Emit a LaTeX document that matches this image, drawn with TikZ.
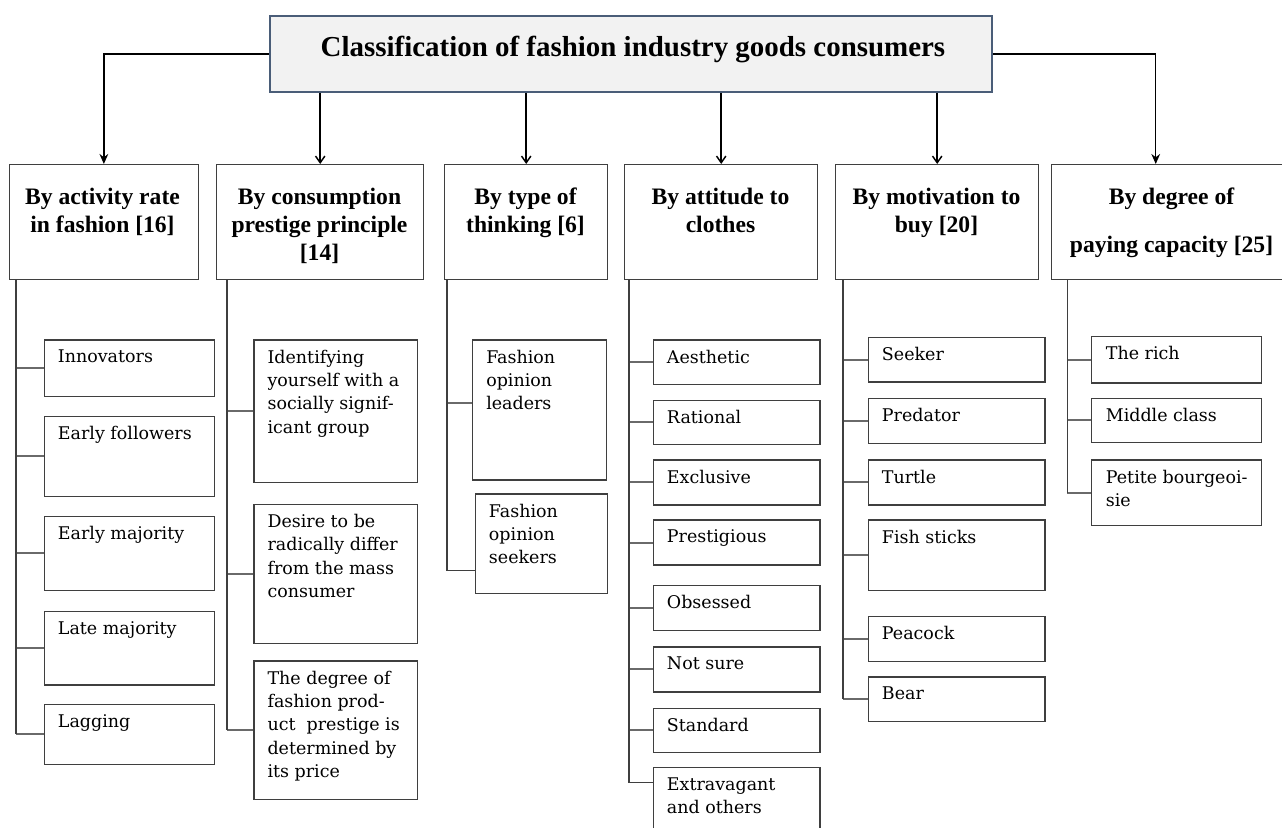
\documentclass[tikz,border=0pt]{standalone}
\usepackage{fontspec}
\setmainfont{Liberation Serif}
\newfontfamily\leaffont{DejaVu Serif}
\usepackage{tikz}
\usetikzlibrary{arrows.meta, calc}
\definecolor{boxline}{HTML}{3F3F3F}
\definecolor{branchline}{HTML}{6A6A6A}
\definecolor{titleline}{HTML}{4A5D78}
\definecolor{titlefill}{HTML}{F2F2F2}

\begin{document}
\begin{tikzpicture}[x=0.75pt, y=-0.75pt,
    box/.style={draw=boxline, line width=1pt, inner sep=0pt, anchor=north west},
    titlebox/.style={draw=titleline, fill=titlefill, line width=1.6pt, inner sep=0pt, anchor=north west},
    titletext/.style={font=\fontsize{21.7pt}{26pt}\selectfont\bfseries, inner sep=0pt, anchor=base},
    headtext/.style={font=\fontsize{17.7pt}{21pt}\selectfont\bfseries, align=center, inner sep=0pt, anchor=north},
    leaftext/.style={font=\leaffont\fontsize{13.1pt}{17.5pt}\selectfont, align=left, inner sep=0pt, anchor=north west},
    trunk/.style={draw=boxline, line width=1.2pt},
    branch/.style={draw=branchline, line width=1.5pt},
    bigarrow/.style={draw=black, line width=1.1pt, -{Stealth[length=7.5pt, width=6.5pt]}},
    smallarrow/.style={draw=black, line width=1.1pt, -{Straight Barb[length=5pt, width=7pt]}}]

    \useasboundingbox (0,0) rectangle (1282,828);
    \clip (0,0) rectangle (1282,828);

    % title
    \node[titlebox, minimum width=541.8pt, minimum height=57pt] (title) at (268.6,14.7) {};
    \node[titletext] (title-t) at (633,56.7) {Classification of fashion industry goods consumers};

    % criteria
    \node[box, minimum width=141.9pt, minimum height=86.3pt] (h1) at (8.6,164) {};
    \node[box, minimum width=155.3pt, minimum height=86.3pt] (h2) at (216,164) {};
    \node[box, minimum width=122.3pt, minimum height=86.3pt] (h3) at (444,164) {};
    \node[box, minimum width=144.8pt, minimum height=86.3pt] (h4) at (624,164) {};
    \node[box, minimum width=152.3pt, minimum height=86.3pt] (h5) at (835,164) {};
    \node[box, minimum width=179.3pt, minimum height=86.3pt] (h6) at (1051,164) {};

    \node[headtext] (h1-t) at (102.5,187.5) {By activity rate\\in fashion [16]};
    \node[headtext] (h2-t) at (319.5,187.5) {By consumption\\prestige principle\\{[14]}};
    \node[headtext] (h3-t) at (525.5,187.5) {By type of\\thinking [6]};
    \node[headtext] (h4-t) at (720.5,187.5) {By attitude to\\clothes};
    \node[headtext] (h5-t) at (936.5,187.5) {By motivation to\\buy [20]};
    \node[headtext] (h6-t) at (1171.5,187.5) {By degree of\\[15pt]paying capacity [25]};

    \draw[bigarrow] (title.west) -| (h1.north);
    \draw[bigarrow] (title.east) -| ([xshift=-11.6pt]h6.north);
    \foreach \h in {h2,h3,h4,h5}
        \draw[smallarrow] (title.south -| \h.north) -- (\h.north);

    % trunks
    \coordinate (t1) at (16,279);
    \coordinate (t2) at (226.7,279);
    \coordinate (t3) at (446.7,279);
    \coordinate (t4) at (629,279);
    \coordinate (t5) at (842.7,279);
    \coordinate (t6) at (1067.3,279);

    % by activity rate
    \foreach \n/\ya/\yb/\t in {inn/339.2/396.1/Innovators, efo/415.7/495.9/Early followers,
        ema/515.5/589.6/Early majority, lma/610.9/684.3/Late majority, lag/703.9/763.5/Lagging}
    {
        \node[box, minimum width=127.5pt, minimum height={(\yb-\ya)*0.75pt}] (\n) at (43.7,\ya) {};
        \node[leaftext] (\n-t) at ([xshift=10.5pt, yshift=-7.9pt]\n.north west) {\t};
        \draw[branch] (\n.west) -- (\n.west -| t1);
    }
    \draw[trunk] (t1) -- (t1 |- lag.west);

    % by prestige principle
    \foreach \n/\ya/\yb/\t in {idy/339.2/481.8/{Identifying\\yourself with a\\socially signif-\\icant group},
        des/503.5/643/{Desire to be\\radically differ\\from the mass\\consumer},
        deg/660.2/799/{The degree of\\fashion prod-\\uct~ prestige is\\determined by\\its price}}
    {
        \node[box, minimum width=122.5pt, minimum height={(\yb-\ya)*0.75pt}] (\n) at (253.3,\ya) {};
        \node[leaftext] (\n-t) at ([xshift=10.5pt, yshift=-7.9pt]\n.north west) {\t};
        \draw[branch] (\n.west) -- (\n.west -| t2);
    }
    \draw[trunk] (t2) -- (t2 |- deg.west);

    % by type of thinking
    \node[box, minimum width=100.3pt, minimum height=105.2pt] (fol) at (472,339.2) {};
    \node[box, minimum width=99pt, minimum height=74.9pt] (fos) at (474.7,493.2) {};
    \node[leaftext] (fol-t) at ([xshift=10.5pt, yshift=-7.9pt]fol.north west) {Fashion\\opinion\\leaders};
    \node[leaftext] (fos-t) at ([xshift=10.5pt, yshift=-7.9pt]fos.north west) {Fashion\\opinion\\seekers};
    \draw[branch] ([yshift=5.5pt]fol.west) -- ([yshift=5.5pt]fol.west -| t3);
    \draw[trunk] (t3) |- ([yshift=-19.9pt]fos.west);

    % by attitude to clothes
    \foreach \n/\ya/\yb/\t in {aes/339.2/383.7/Aesthetic, rat/399.5/443.9/Rational,
        exc/459.4/504.2/Exclusive, pre/519.3/564.4/Prestigious, obs/584.8/629.9/Obsessed,
        nsu/646.4/691.2/Not sure, sta/707.7/751.5/Standard, ext/766.5/840/{Extravagant\\and others}}
    {
        \node[box, minimum width=125pt, minimum height={(\yb-\ya)*0.75pt}] (\n) at (652.7,\ya) {};
        \node[leaftext] (\n-t) at ([xshift=10.5pt, yshift=-7.9pt]\n.north west) {\t};
    }
    \foreach \n in {aes,rat,exc,pre,obs,nsu,sta}
        \draw[branch] (\n.west) -- (\n.west -| t4);
    \draw[trunk] (t4) |- ([yshift=-12pt]ext.north west);

    % by motivation to buy
    \foreach \n/\ya/\yb/\t in {see/336.5/381.3/Seeker, prd/397.8/442.5/Predator,
        tur/459.4/504.2/Turtle, fis/519.3/589.6/Fish sticks, pea/615.8/660.9/Peacock,
        bea/676.4/721.1/Bear}
    {
        \node[box, minimum width=132.5pt, minimum height={(\yb-\ya)*0.75pt}] (\n) at (867.7,\ya) {};
        \node[leaftext] (\n-t) at ([xshift=10.5pt, yshift=-7.9pt]\n.north west) {\t};
        \draw[branch] (\n.west) -- (\n.west -| t5);
    }
    \draw[trunk] (t5) -- (t5 |- bea.west);

    % by paying capacity
    \foreach \n/\ya/\yb/\t in {ric/335.8/382.3/The rich, mid/397.8/441.5/Middle class,
        pet/459.4/524.5/{Petite bourgeoi-\\sie}}
    {
        \node[box, minimum width=127.7pt, minimum height={(\yb-\ya)*0.75pt}] (\n) at (1090.7,\ya) {};
        \node[leaftext] (\n-t) at ([xshift=11.2pt, yshift=-7.9pt]\n.north west) {\t};
        \draw[branch] (\n.west) -- (\n.west -| t6);
    }
    \draw[trunk] (t6) -- (t6 |- pet.west);
\end{tikzpicture}
\end{document}
